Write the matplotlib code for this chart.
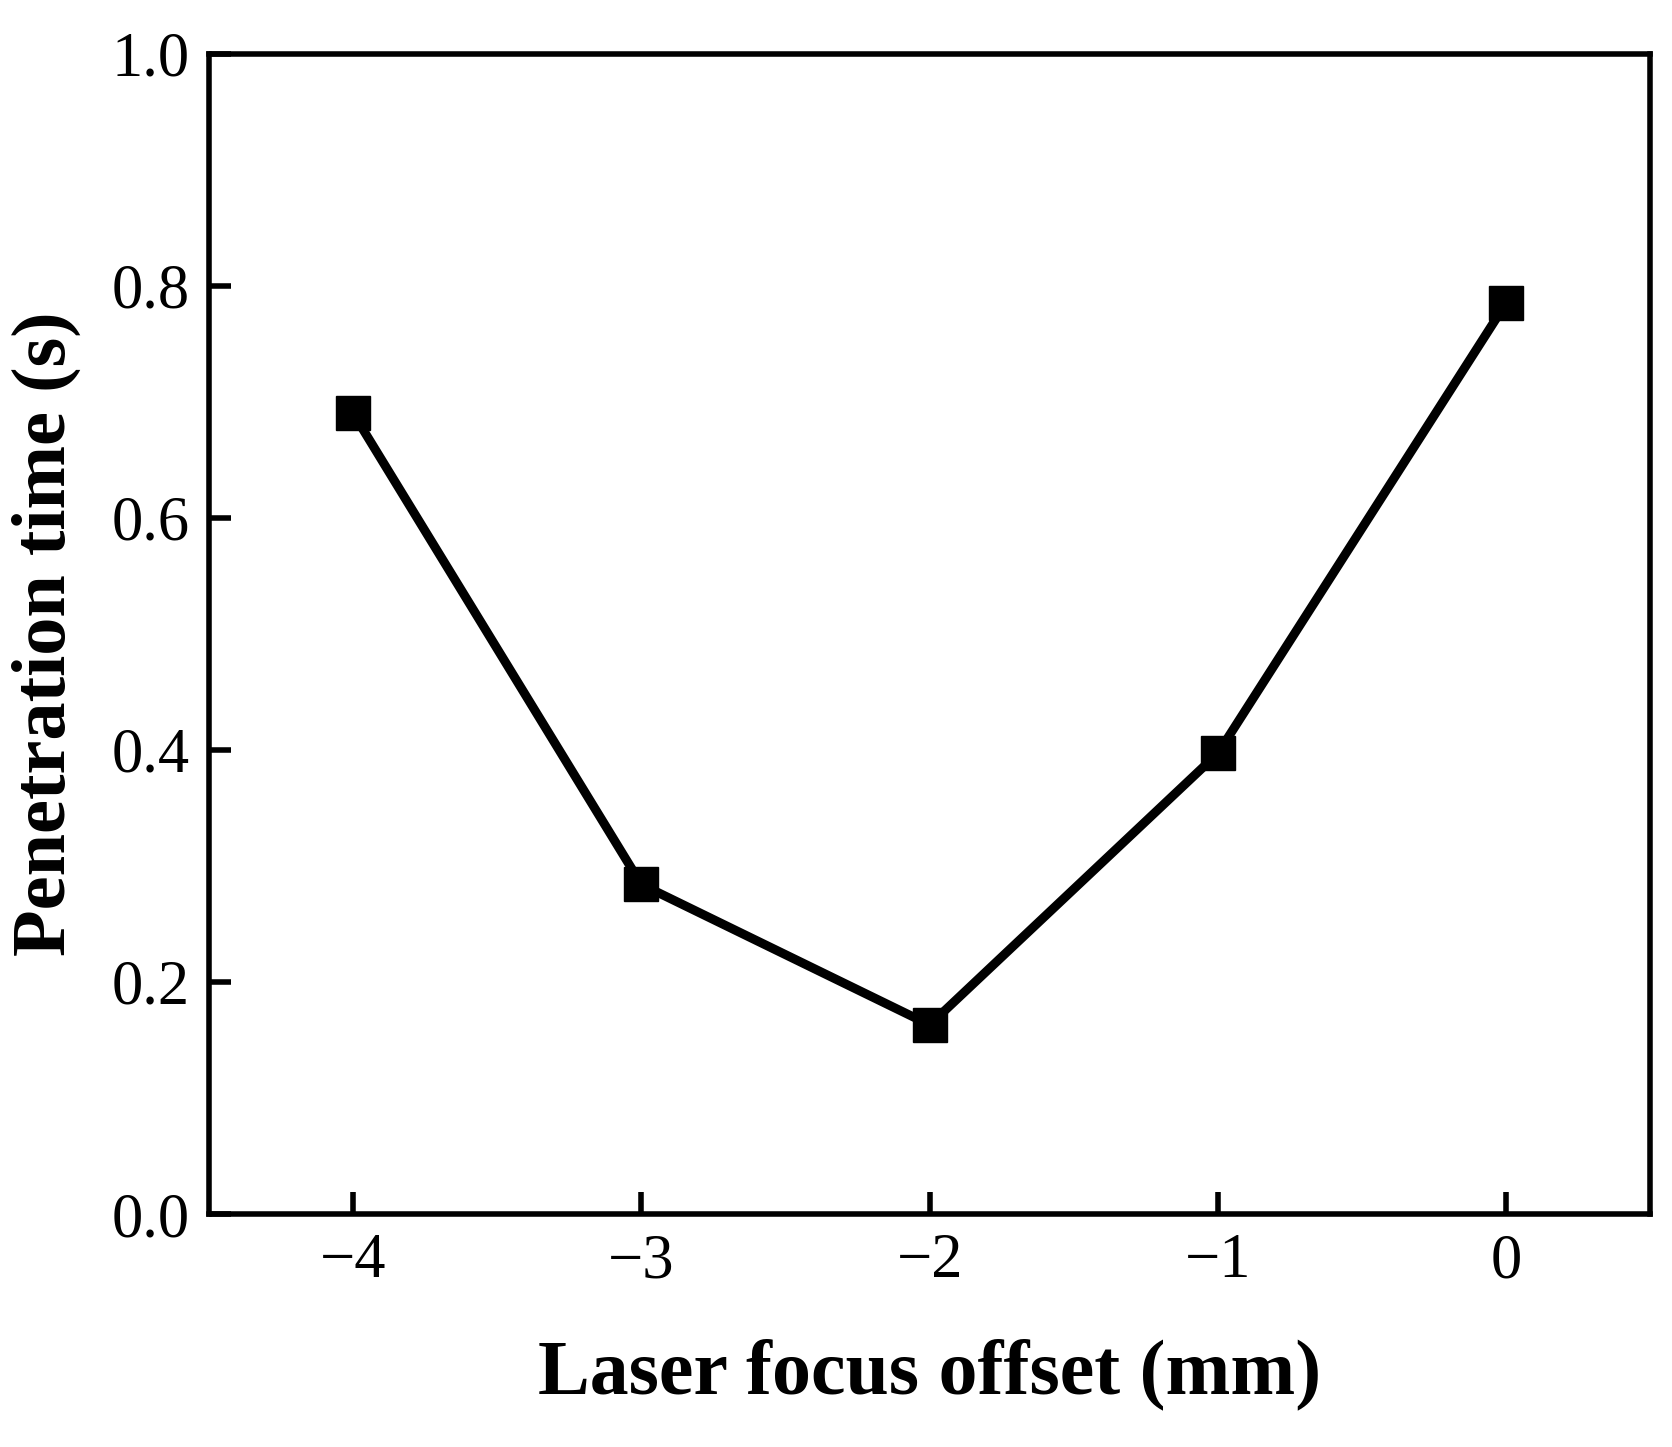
import matplotlib
matplotlib.use("Agg")
import matplotlib.pyplot as plt

offset = [-4, -3, -2, -1, 0]
time_s = [0.69, 0.284, 0.163, 0.397, 0.785]
xticks = [-4, -3, -2, -1, 0]
yticks = [0.0, 0.2, 0.4, 0.6, 0.8, 1.0]

plt.rcParams['font.family'] = ['Liberation Serif', 'DejaVu Serif']
plt.rcParams['axes.unicode_minus'] = True
fig = plt.figure(figsize=(16.72, 14.47), dpi=100)
ax = fig.add_axes([0.125, 0.161, 0.862, 0.802])
ax.plot(offset, time_s, color='black', lw=6.5, marker='s', ms=24)
ax.set_xlim(-4.5, 0.5)
ax.set_ylim(0, 1.0)
ax.set_xticks(xticks)
ax.set_xticklabels([f"\u2212{abs(v)}" if v < 0 else str(v) for v in xticks])
ax.set_yticks(yticks)
ax.set_yticklabels([f"{v:.1f}" for v in yticks])
ax.tick_params(direction='in', length=16, width=4, labelsize=45, pad=14)
for s in ax.spines.values():
    s.set_linewidth(4)
ax.set_xlabel('Laser focus offset (mm)', fontsize=56, fontweight='bold', labelpad=34)
ax.set_ylabel('Penetration time (s)', fontsize=55, fontweight='bold', labelpad=22)
fig.savefig('out.png', dpi=100)
